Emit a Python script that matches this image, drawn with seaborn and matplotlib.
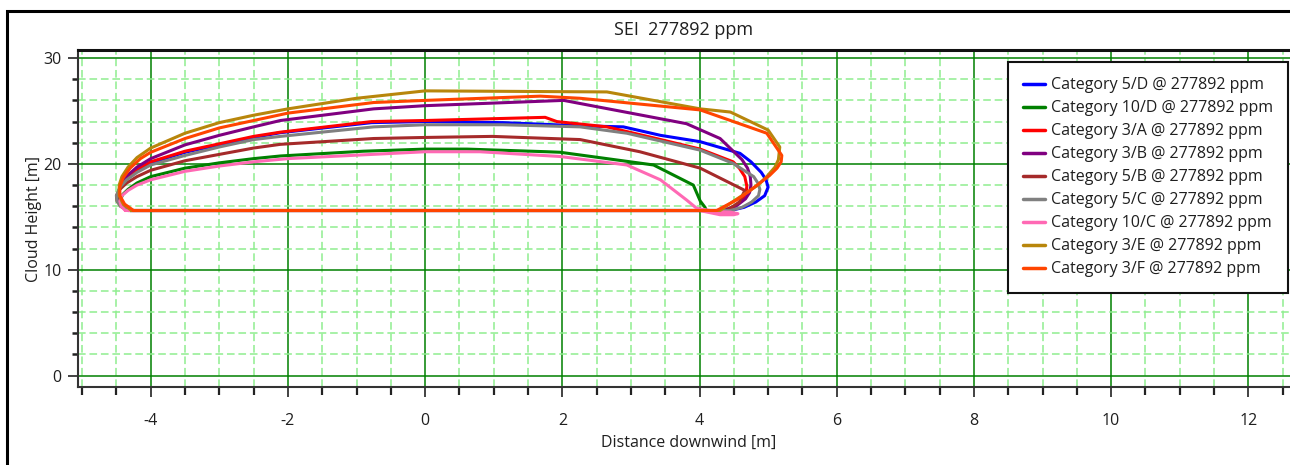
import numpy as np
import pandas as pd
import matplotlib
matplotlib.use("Agg")
import matplotlib.pyplot as plt
from matplotlib.lines import Line2D
from matplotlib.ticker import MultipleLocator
import seaborn as sns

# ---- cloud outlines (distance downwind [m], cloud height [m]) ----
cat_5D_x = [-4.30, 4.45, 4.65, 4.82, 4.95, 5.00, 4.97, 4.90, 4.75, 4.59, 4.01, 3.43, 2.89,
            2.26, 1.13, 0.00, -0.78, -2.11, -2.50, -3.00, -3.50, -4.00, -4.20, -4.34,
            -4.43, -4.47, -4.46, -4.41, -4.30]
cat_5D_y = [15.6, 15.6, 15.9, 16.4, 17.0, 17.8, 18.5, 19.2, 20.2, 21.0, 22.1, 22.7, 23.5,
            23.6, 23.9, 24.0, 23.9, 22.95, 22.5, 21.8, 21.1, 20.1, 19.4, 18.7,
            18.0, 17.3, 16.7, 16.1, 15.6]

cat_10D_x = [-4.30, 4.10, 4.08, 4.01, 3.91, 3.33, 1.97, 1.78, 0.61, 0.00, -0.90, -2.11,
             -2.50, -3.00, -3.50, -4.00, -4.20, -4.33, -4.41, -4.44, -4.42, -4.37, -4.30]
cat_10D_y = [15.6, 15.6, 15.9, 16.5, 18.0, 19.9, 21.1, 21.15, 21.4, 21.4, 21.2, 20.75,
             20.5, 20.1, 19.6, 18.8, 18.2, 17.6, 17.1, 16.6, 16.2, 15.85, 15.6]

cat_3A_x = [-4.30, 4.35, 4.52, 4.62, 4.68, 4.69, 4.66, 4.58, 4.49, 4.01, 3.50, 2.65, 1.92,
            1.75, 0.00, -0.78, -2.11, -2.50, -3.00, -3.50, -4.00, -4.20, -4.34, -4.43,
            -4.47, -4.46, -4.41, -4.30]
cat_3A_y = [15.6, 15.6, 16.0, 16.6, 17.3, 17.9, 18.8, 19.6, 20.2, 21.4, 22.2, 23.5, 24.0,
            24.4, 24.1, 24.0, 23.0, 22.6, 21.9, 21.2, 20.2, 19.5, 18.8, 18.1,
            17.3, 16.7, 16.1, 15.6]

cat_3B_x = [-4.30, 4.35, 4.55, 4.67, 4.73, 4.75, 4.74, 4.70, 4.62, 4.30, 3.81, 2.02, 0.00,
            -0.75, -2.11, -2.50, -3.00, -3.50, -4.00, -4.20, -4.34, -4.43, -4.47, -4.46,
            -4.41, -4.30]
cat_3B_y = [15.6, 15.6, 16.1, 16.7, 17.3, 18.0, 18.8, 19.6, 20.4, 22.4, 23.8, 26.0, 25.5,
            25.2, 24.1, 23.5, 22.7, 21.8, 20.5, 19.7, 18.9, 18.1, 17.3, 16.7,
            16.1, 15.6]

cat_5B_x = [-4.33, 4.40, 4.58, 4.66, 4.01, 3.13, 2.26, 0.98, 0.00, -0.75, -2.11, -2.50,
            -3.00, -3.50, -4.00, -4.20, -4.35, -4.45, -4.50, -4.49, -4.44, -4.33]
cat_5B_y = [15.6, 15.6, 16.4, 17.5, 19.6, 21.15, 22.3, 22.6, 22.5, 22.4, 21.85, 21.5,
            20.9, 20.3, 19.4, 18.8, 18.2, 17.6, 17.0, 16.5, 16.0, 15.6]

cat_5C_x = [-4.33, 4.45, 4.62, 4.76, 4.86, 4.88, 4.85, 4.79, 4.49, 4.01, 2.94, 2.26, 1.13,
            0.00, -0.75, -2.11, -2.50, -3.00, -3.50, -4.00, -4.20, -4.35, -4.45, -4.50,
            -4.49, -4.44, -4.33]
cat_5C_y = [15.6, 15.6, 15.9, 16.4, 17.0, 17.6, 18.2, 18.8, 20.05, 21.3, 22.9, 23.5, 23.7,
            23.7, 23.5, 22.6, 22.3, 21.6, 20.8, 19.9, 19.2, 18.5, 17.8, 17.0,
            16.5, 16.0, 15.6]

cat_10C_x = [-4.37, 4.00, 4.30, 4.50, 4.56, 4.45, 4.25, 3.96, 3.81, 3.43, 2.94, 1.97,
             0.80, 0.00, -2.00, -2.50, -3.00, -3.50, -4.00, -4.20, -4.33, -4.42, -4.45,
             -4.43, -4.37]
cat_10C_y = [15.6, 15.6, 15.2, 15.2, 15.3, 15.45, 15.5, 15.8, 16.6, 18.5, 19.9, 20.7,
             21.15, 21.15, 20.5, 20.2, 19.8, 19.3, 18.5, 18.0, 17.5, 17.0, 16.5,
             16.0, 15.6]

cat_3E_x = [-4.28, 4.30, 4.50, 4.69, 4.85, 4.98, 5.10, 5.15, 5.17, 5.00, 4.45, 4.01, 2.65,
            0.00, -1.00, -2.00, -2.50, -3.00, -3.50, -4.00, -4.20, -4.33, -4.42, -4.46,
            -4.46, -4.40, -4.28]
cat_3E_y = [15.6, 15.6, 16.5, 17.3, 18.0, 18.8, 19.7, 20.4, 21.6, 23.2, 24.9, 25.2, 26.8,
            26.9, 26.2, 25.2, 24.6, 23.9, 22.9, 21.5, 20.6, 19.7, 18.8, 18.0,
            17.0, 16.2, 15.6]

cat_3F_x = [-4.25, 4.25, 4.54, 4.72, 4.88, 5.02, 5.13, 5.19, 5.20, 4.98, 4.01, 2.26, 1.68,
            0.00, -0.75, -2.00, -2.50, -3.00, -3.50, -4.00, -4.15, -4.30, -4.40, -4.45,
            -4.45, -4.38, -4.25]
cat_3F_y = [15.6, 15.6, 16.6, 17.4, 18.2, 18.9, 19.6, 20.2, 20.8, 22.9, 25.1, 26.2, 26.4,
            26.0, 25.8, 24.8, 24.1, 23.4, 22.4, 21.1, 20.5, 19.6, 18.7, 17.85,
            17.0, 16.2, 15.6]

series_labels = [
    "Category 5/D @ 277892 ppm", "Category 10/D @ 277892 ppm",
    "Category 3/A @ 277892 ppm", "Category 3/B @ 277892 ppm",
    "Category 5/B @ 277892 ppm", "Category 5/C @ 277892 ppm",
    "Category 10/C @ 277892 ppm", "Category 3/E @ 277892 ppm",
    "Category 3/F @ 277892 ppm",
]
series_colors = ["#0000FF", "#008000", "#FF0000", "#800080", "#A52A2A",
                 "#808080", "#FF69B4", "#B8860B", "#FF4500"]

outlines = [
    (cat_5D_x, cat_5D_y), (cat_10D_x, cat_10D_y), (cat_3A_x, cat_3A_y),
    (cat_3B_x, cat_3B_y), (cat_5B_x, cat_5B_y), (cat_5C_x, cat_5C_y),
    (cat_10C_x, cat_10C_y), (cat_3E_x, cat_3E_y), (cat_3F_x, cat_3F_y),
]

frames = []
for label, (xs, ys) in zip(series_labels, outlines):
    frames.append(pd.DataFrame({"x": xs, "y": ys, "series": label}))
df = pd.concat(frames, ignore_index=True)

# ---- styling ----
sns.set_theme(style="white")
plt.rcParams["font.family"] = ["Open Sans", "DejaVu Sans"]
plt.rcParams["axes.unicode_minus"] = False
text_color = "#1f1f1f"

fig = plt.figure(figsize=(12.9, 4.65), dpi=100)
W, H = 1290, 465
ax_left, ax_right, ax_top, ax_bottom = 78, 1300, 50, 387
ax = fig.add_axes([ax_left / W, 1 - ax_bottom / H,
                   (ax_right - ax_left) / W, (ax_bottom - ax_top) / H])

sns.lineplot(data=df, x="x", y="y", hue="series", hue_order=series_labels,
             palette=series_colors, sort=False, estimator=None,
             linewidth=2.2, ax=ax, legend=False, zorder=3)

# axes run slightly past the right edge of the figure
ax.set_xlim(-5.06, -5.06 + (ax_right - ax_left) / 68.6)
ax.set_ylim(-1.07, 30.76)

ax.xaxis.set_major_locator(MultipleLocator(2))
ax.xaxis.set_minor_locator(MultipleLocator(0.5))
ax.yaxis.set_major_locator(MultipleLocator(10))
ax.yaxis.set_minor_locator(MultipleLocator(2))

ax.grid(which="minor", color="#90EE90", linestyle=(0, (5, 2.5)), linewidth=1.1, zorder=0)
ax.grid(which="major", color="#008000", linestyle="-", linewidth=1.1, zorder=1)
ax.set_axisbelow(True)

ax.tick_params(axis="both", which="major", direction="out", length=7, width=1.2,
               color="#222222", labelsize=11.5, labelcolor=text_color, pad=5,
               bottom=True, left=True)
ax.tick_params(axis="x", which="minor", direction="out", length=6, width=1.6,
               color="#222222", bottom=True)
ax.tick_params(axis="y", which="minor", direction="out", length=4, width=1.8,
               color="#222222", left=True)
ax.tick_params(axis="x", which="major", pad=12)

for side in ("left", "bottom"):
    ax.spines[side].set_color("#333333")
    ax.spines[side].set_linewidth(1.5)
ax.spines["top"].set_color("#111111")
ax.spines["top"].set_linewidth(2.2)
ax.spines["right"].set_visible(False)

ax.set_xlabel("Distance downwind [m]", fontsize=11.5, color=text_color, labelpad=4)
ax.set_ylabel("Cloud Height [m]", fontsize=11.5, color=text_color, labelpad=1)
ax.text(0.5 * (1290 - ax_left) / (ax_right - ax_left), 1.0 + 20 / (ax_bottom - ax_top),
        "SEI  277892 ppm", transform=ax.transAxes, ha="center", va="center",
        fontsize=13, color=text_color)

handles = [Line2D([0], [0], color=c, linewidth=2.5) for c in series_colors]
leg = ax.legend(handles, series_labels, loc="upper right",
                bbox_to_anchor=(1288 / W, 1 - 62 / H), bbox_transform=fig.transFigure,
                frameon=True, fancybox=False,
                framealpha=1.0, edgecolor="#111111", fontsize=11.5,
                handlelength=1.4, handletextpad=0.35, labelspacing=0.44,
                borderpad=0.95, borderaxespad=0.0)
leg.get_frame().set_linewidth(1.5)
for t in leg.get_texts():
    t.set_color(text_color)
leg.set_zorder(10)

# outer panel border: left edge and top edge only
panel_x = 7 / W
panel_top = 1 - 11 / H
fig.add_artist(Line2D([panel_x, panel_x, 1.05], [-0.05, panel_top, panel_top],
                      color="black", linewidth=2.2, transform=fig.transFigure,
                      solid_joinstyle="miter"))

fig.savefig("out.png", dpi=100, facecolor="white")
